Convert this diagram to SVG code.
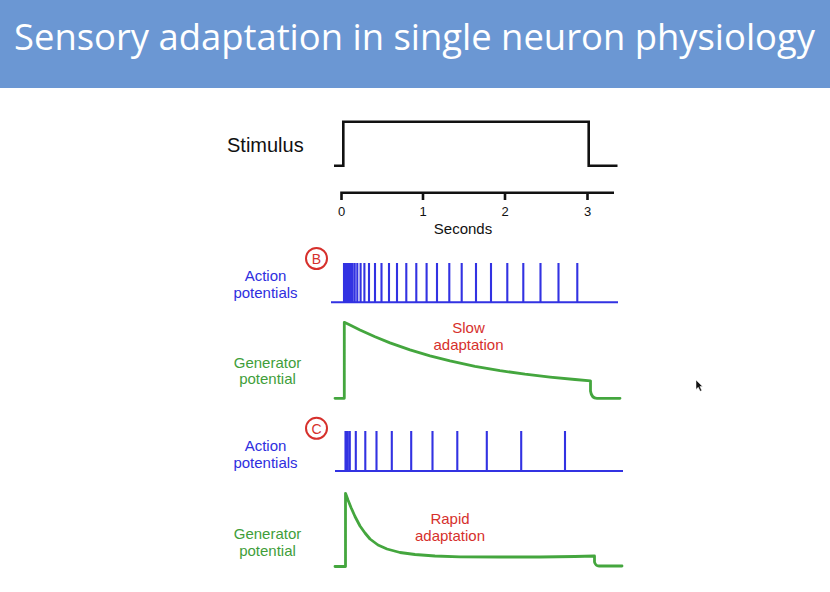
<svg xmlns="http://www.w3.org/2000/svg" width="830" height="592" viewBox="0 0 830 592">
<style>
.lbl{font-family:"Liberation Sans",Arial,sans-serif;font-size:15px;text-anchor:middle}
.blue{fill:#2e2ee0}
.green{fill:#3f9e3a}
.red{fill:#d6302c}
.blk{fill:#111}
.spk{fill:none;stroke:#3232e2;stroke-width:2.1}
.gen{fill:none;stroke:#44a63e;stroke-width:2.8;stroke-linejoin:round;stroke-linecap:round}
.stim{fill:none;stroke:#111;stroke-width:2.6;stroke-linejoin:miter}
.circ{fill:none;stroke:#d6302c;stroke-width:2}
</style>
<rect x="0" y="0" width="830" height="592" fill="#ffffff"/>
<g id="title">
<rect x="0" y="0" width="830" height="88" fill="#6b97d3"/>
<text x="14" y="50" font-family="'Open Sans','Noto Sans',sans-serif" font-size="36" fill="#ffffff" textLength="801" lengthAdjust="spacingAndGlyphs">Sensory adaptation in single neuron physiology</text>
</g>
<g id="stimulus">
<text x="227" y="151.5" font-family="'Liberation Sans',Arial,sans-serif" font-size="20" class="blk">Stimulus</text>
<path class="stim" d="M334,165.7 H343.3 V121.7 H588.7 V165.7 H617.5"/>
</g>
<g id="time-axis">
<path class="stim" d="M341,192.7 H614 M341.5,191.5 V200 M423,191.5 V200 M505,191.5 V200 M587.5,191.5 V200"/>
<g font-family="'Liberation Sans',Arial,sans-serif" font-size="13" text-anchor="middle" class="blk">
<text x="341.5" y="215.5">0</text>
<text x="423" y="215.5">1</text>
<text x="505" y="215.5">2</text>
<text x="587.5" y="215.5">3</text>
</g>
<text x="463" y="233.5" class="lbl blk">Seconds</text>
</g>
<g id="panel-b-label">
<circle cx="316.5" cy="258.5" r="10.5" class="circ"/>
<text x="316.5" y="263.8" font-family="'Liberation Sans',Arial,sans-serif" font-size="14" text-anchor="middle" class="red">B</text>
</g>
<g id="action-potentials-b">
<text x="265.5" y="281.1" class="lbl blue">Action</text>
<text x="265.5" y="297.9" class="lbl blue">potentials</text>
<path class="spk" d="M331,302.3 H618 M344,263 V302 M345.4,263 V302 M346.8,263 V302 M348.4,263 V302 M350.3,263 V302 M352.4,263 V302 M354.7,263 V302 M357.3,263 V302 M360.6,263 V302 M364.4,263 V302 M369,263 V302 M375,263 V302 M381.5,263 V302 M389,263 V302 M397,263 V302 M406.3,263 V302 M416.3,263 V302 M426.6,263 V302 M437,263 V302 M449.3,263 V302 M461.7,263 V302 M476,263 V302 M491,263 V302 M507.3,263 V302 M523.3,263 V302 M540.5,263 V302 M558.5,263 V302 M577.3,263 V302"/>
</g>
<g id="generator-potential-b">
<text x="267.5" y="367.5" class="lbl green">Generator</text>
<text x="267.5" y="384.3" class="lbl green">potential</text>
<path class="gen" d="M335,398.3 H344.3 V322.3 L350,325 L360,330 L375,336.8 L390,342.9 L410,349.9 L430,355.8 L450,360.9 L475,366.3 L500,370.6 L525,374.2 L550,377.1 L575,379.5 L590.5,380.8 V391 Q591.5,398.3 597,398.3 H620"/>
<text x="468.5" y="333.2" class="lbl red">Slow</text>
<text x="468.5" y="350" class="lbl red">adaptation</text>
</g>
<g id="panel-c-label">
<circle cx="316.5" cy="428.3" r="10.5" class="circ"/>
<text x="316.5" y="433.6" font-family="'Liberation Sans',Arial,sans-serif" font-size="14" text-anchor="middle" class="red">C</text>
</g>
<g id="action-potentials-c">
<text x="265.5" y="451.1" class="lbl blue">Action</text>
<text x="265.5" y="467.9" class="lbl blue">potentials</text>
<path class="spk" d="M335,471 H623 M345.5,431 V471 M347.6,431 V471 M349.8,431 V471 M355.8,431 V471 M365.3,431 V471 M376.5,431 V471 M391.8,431 V471 M411.2,431 V471 M432.5,431 V471 M457.3,431 V471 M486.8,431 V471 M521.2,431 V471 M565,431 V471"/>
</g>
<g id="generator-potential-c">
<text x="267.5" y="539.2" class="lbl green">Generator</text>
<text x="267.5" y="556" class="lbl green">potential</text>
<path class="gen" d="M335,566.5 H345.5 V493.3 L348,500 L351,507.5 L355,516.5 L360,526 L365,533 L370,539 L378,545 L387,549 L400,552.5 L415,554.5 L435,556 L460,556.8 L500,557 L540,557 L575,556.5 L594.5,556 V562 Q595.5,566 599,566 H622"/>
<text x="450" y="524.2" class="lbl red">Rapid</text>
<text x="450" y="541" class="lbl red">adaptation</text>
</g>
<g id="cursor">
<polygon points="696,380 696,389.5 698.2,387.3 700.2,391.3 701.8,390.6 699.9,386.6 702.6,386.6" fill="#111" stroke="#fff" stroke-width="0.5"/>
</g>
</svg>
